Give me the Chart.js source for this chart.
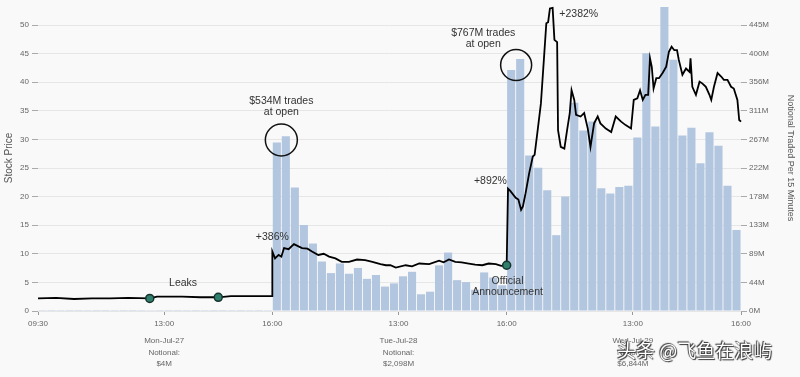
<!DOCTYPE html>
<html>
<head>
<meta charset="utf-8">
<script src="https://cdn.jsdelivr.net/npm/chart.js@4.4.1/dist/chart.umd.min.js"></script>
<style>
  html, body { margin: 0; padding: 0; background: #f9f9f9; }
  #wrap { position: relative; width: 800px; height: 377px; }
  #mark {
    position: absolute; left: 617px; top: 336px;
    font-family: "Noto Sans CJK SC", sans-serif; font-size: 19px; color: #fff;
    text-shadow: 0 0 1px #222, 1px 1px 1px #333, -1px -1px 1px #333;
  }
</style>
</head>
<body>
<div id="wrap">
  <canvas id="chart" width="800" height="377"></canvas>
  <div id="mark">头条 @飞鱼在浪屿</div>
</div>
<script>
'use strict';

//notional traded per 15 minutes, in $M, 26 bars for each day
let notionalMon = [0.2, 0.1, 0.2, 0.1, 0.1, 0.2, 0.1, 0.1, 0.2, 0.1, 0.1, 0.2, 0.3, 0.2, 0.1, 0.1, 0.2, 0.1, 0.2, 0.1, 0.1, 0.2, 0.1, 0.2, 0.1, 0.3];
let notionalTue = [262, 272, 192, 134, 105, 77, 59, 74, 58, 67, 50, 56, 38, 43, 54, 61, 26, 30, 71, 91, 48, 45, 33, 60, 52, 40];
let notionalWed = [375, 392, 242, 223, 188, 118, 178, 324, 281, 295, 191, 183, 193, 195, 270, 401, 287, 473, 391, 273, 285, 230, 278, 257, 195, 126];

//stock price, x is counted in 15 minute slots from Monday 09:30
let priceX = [0, 2, 4, 6, 8, 10, 12.4, 13.2, 16, 18, 20, 21.4, 24, 26,
  26, 26.3, 26.7, 27.0, 27.3, 27.8, 28.4, 28.9, 29.3, 29.9, 30.4, 31.1, 31.7, 32.3, 33.0, 33.7, 34.5, 35.4, 36.3, 37.1, 38.0, 38.6, 39.1, 39.7, 40.8, 41.5, 42.3, 43.4, 44.5, 45.0, 45.6, 46.3, 47.0, 47.8, 48.5, 49.3, 50.0, 50.8, 51.4, 52.0,
  52.15, 52.4, 53.0, 53.3, 53.6, 53.8, 54.1, 54.5, 54.9, 55.1, 55.4, 55.8, 56.1, 56.4, 56.6, 56.8, 57.1, 57.3, 57.6, 57.7, 58.0, 58.4, 58.7, 59.0, 59.2, 59.5, 59.7, 60.2, 60.6, 61.0, 61.3, 61.7, 62.1, 62.4, 63.0, 63.6, 64.1, 64.7, 65.2, 65.8,
  66.1, 66.5, 66.8, 67.1, 67.4, 67.7, 67.9, 68.1, 68.3, 68.6, 68.9, 69.3, 69.7, 70.0, 70.3, 70.6, 70.9, 71.1, 71.5, 71.9, 72.3, 72.4, 72.6, 73.0, 73.4, 73.7, 74.1, 74.5, 74.7, 75.0, 75.4, 75.8, 76.1, 76.5, 76.9, 77.2, 77.6, 77.8, 78.0];
let priceY = [2.2, 2.3, 2.1, 2.2, 2.2, 2.3, 2.2, 2.5, 2.5, 2.4, 2.4, 2.6, 2.6, 2.6,
  10.4, 9.2, 9.8, 9.5, 11.0, 10.8, 11.7, 11.3, 11.0, 10.9, 10.4, 9.8, 10.0, 9.5, 9.2, 8.6, 8.6, 9.0, 8.9, 8.6, 8.2, 8.0, 8.0, 7.6, 8.0, 7.8, 8.3, 8.2, 8.8, 8.5, 9.0, 8.6, 8.5, 8.3, 8.1, 8.0, 8.3, 8.2, 7.9, 8.0,
  21.4, 21.0, 19.8, 19.5, 17.7, 18.3, 20.6, 24.1, 27.0, 27.3, 31.1, 36.3, 43.3, 50.3, 50.5, 52.9, 53.0, 47.4, 47.0, 31.6, 28.7, 28.4, 31.6, 34.6, 38.6, 36.9, 34.3, 34.0, 34.6, 31.9, 28.7, 32.8, 34.0, 32.8, 31.9, 31.3, 34.0, 33.1, 32.5, 31.9,
  36.9, 37.2, 38.6, 36.9, 37.8, 37.8, 44.2, 42.7, 38.9, 40.7, 40.7, 41.6, 42.7, 45.3, 46.2, 45.6, 45.6, 43.9, 41.3, 42.4, 41.8, 44.2, 39.2, 37.8, 40.1, 39.8, 39.2, 37.8, 36.9, 39.2, 41.6, 41.0, 40.4, 40.4, 39.2, 38.9, 36.9, 33.4, 33.1];

//green dots: two leaks and the official announcement
let eventX = [12.4, 20, 52];
let eventY = [2.2, 2.4, 8.0];

//open circles round the opening bars
let circleX = [27.0, 53.05];
let circleY = [29.9, 43.0];

//x axis tick positions and labels
let xTickPos = [0, 14, 26, 40, 52, 66, 78];
let xTickText = ['09:30', '13:00', '16:00', '13:00', '16:00', '13:00', '16:00'];
let dayMid = [14, 40, 66];
let dayNames = ['Mon-Jul-27', 'Tue-Jul-28', 'Wed-Jul-29'];
let dayNotional = ['$4M', '$2,098M', '$6,844M'];

//text notes placed in data coordinates
let notes = [
  { x: 27.0, y: 36.7, lines: ['$534M trades', 'at open'] },
  { x: 49.4, y: 48.6, lines: ['$767M trades', 'at open'] },
  { x: 26.0, y: 12.9, lines: ['+386%'] },
  { x: 50.2, y: 22.7, lines: ['+892%'] },
  { x: 60.0, y: 51.9, lines: ['+2382%'] },
  { x: 16.1, y: 4.9, lines: ['Leaks'] },
  { x: 52.1, y: 5.2, lines: ['Official', 'Announcement'] }
];

//join the three days into one bar series
let allNotional = notionalMon.concat(notionalTue, notionalWed);
let barData = allNotional.map((v, i) => ({ x: i + 0.5, y: v }));
let priceData = priceX.map((x, i) => ({ x: x, y: priceY[i] }));
let eventData = eventX.map((x, i) => ({ x: x, y: eventY[i] }));
let circleData = circleX.map((x, i) => ({ x: x, y: circleY[i] }));

let priceMax = 53.5;
let ratio = 8.9; //44.5M per 5 dollars

Chart.defaults.font.family = '"Liberation Sans", Arial, sans-serif';

//no extra room for half labels at the axis ends
function noPad(s) {
  s.paddingTop = 0;
  s.paddingBottom = 0;
  s.paddingLeft = 0;
  s.paddingRight = 0;
}

//draws notes and day captions
const notesPlugin = {
  id: 'notes',
  afterDatasetsDraw(chart) {
    const ctx = chart.ctx;
    const xs = chart.scales.x;
    const ys = chart.scales.y;
    ctx.save();
    ctx.textAlign = 'center';
    ctx.textBaseline = 'middle';
    ctx.fillStyle = '#333';
    ctx.font = '10.5px "Liberation Sans", Arial, sans-serif';
    notes.forEach(n => {
      let px = xs.getPixelForValue(n.x);
      let py = ys.getPixelForValue(n.y);
      n.lines.forEach((line, i) => ctx.fillText(line, px, py + i * 11));
    });
    ctx.fillStyle = '#666';
    ctx.font = '8px "Liberation Sans", Arial, sans-serif';
    let base = chart.chartArea.bottom;
    dayNames.forEach((d, i) => {
      let px = xs.getPixelForValue(dayMid[i]);
      ctx.fillText(d, px, base + 30);
      ctx.fillText('Notional:', px, base + 42);
      ctx.fillText(dayNotional[i], px, base + 53);
    });
    ctx.restore();
  }
};

const ctx = document.getElementById('chart').getContext('2d');
const myChart = new Chart(ctx, {
  type: 'bar',
  data: {
    datasets: [
      {
        type: 'scatter',
        data: circleData,
        yAxisID: 'y',
        pointRadius: [16, 15.5],
        pointBackgroundColor: 'rgba(0,0,0,0)',
        pointBorderColor: '#111',
        pointBorderWidth: 1.5,
        order: 0
      },
      {
        type: 'scatter',
        data: eventData,
        yAxisID: 'y',
        pointRadius: 4,
        pointBackgroundColor: '#2f7f6c',
        pointBorderColor: '#17332c',
        pointBorderWidth: 1.5,
        order: 1
      },
      {
        type: 'line',
        data: priceData,
        yAxisID: 'y',
        borderColor: '#000',
        borderWidth: 1.8,
        pointRadius: 0,
        tension: 0,
        fill: false,
        clip: 4,
        order: 2
      },
      {
        type: 'bar',
        data: barData,
        yAxisID: 'y1',
        backgroundColor: '#b3c6df',
        barPercentage: 0.9,
        categoryPercentage: 1.0,
        order: 3
      }
    ]
  },
  options: {
    responsive: false,
    animation: false,
    layout: { autoPadding: false, padding: { top: 5, left: 0, right: 0, bottom: 0 } },
    plugins: { legend: { display: false }, tooltip: { enabled: false } },
    scales: {
      x: {
        type: 'linear',
        min: 0,
        max: 78,
        offset: false,
        afterBuildTicks(s) { s.ticks = xTickPos.map(v => ({ value: v })); },
        afterFit(s) { s.height = 66; noPad(s); },
        ticks: {
          autoSkip: false,
          maxRotation: 0,
          padding: 4,
          color: '#666',
          font: { size: 8 },
          callback: v => xTickText[xTickPos.indexOf(v)]
        },
        grid: { drawOnChartArea: false, offset: false, tickLength: 4, tickColor: '#999' },
        border: { display: false }
      },
      y: {
        position: 'left',
        min: 0,
        max: priceMax,
        afterFit(s) { s.width = 38; noPad(s); },
        ticks: { stepSize: 5, includeBounds: false, padding: 3, color: '#666', font: { size: 8 } },
        grid: { color: '#e6e6e6', tickLength: 6, tickColor: '#aaa' },
        border: { display: false },
        title: { display: true, text: 'Stock Price', color: '#555', font: { size: 10 }, padding: { top: 3, bottom: 0 } }
      },
      y1: {
        position: 'right',
        min: 0,
        max: priceMax * ratio,
        afterFit(s) { s.width = 59; noPad(s); },
        ticks: {
          stepSize: 5 * ratio,
          includeBounds: false,
          padding: 2,
          color: '#666',
          font: { size: 8 },
          callback: v => Math.floor(v + 0.001) + 'M'
        },
        grid: { drawOnChartArea: false, tickLength: 6, tickColor: '#aaa' },
        border: { display: false },
        title: { display: true, text: 'Notional Traded Per 15 Minutes', color: '#555', font: { size: 9 }, padding: { top: 4, bottom: 0 } }
      }
    }
  },
  plugins: [notesPlugin]
});
</script>
</body>
</html>
